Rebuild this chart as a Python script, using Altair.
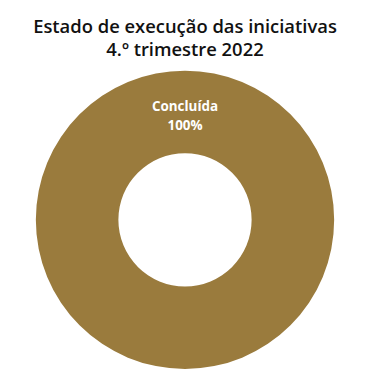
import math
import altair as alt
import pandas as pd

categories = ["Concluída"]
values = [100]
colors = ["#9A7B3D"]

df = pd.DataFrame({"estado": categories, "valor": values})
df["rotulo"] = df["estado"] + "\n" + df["valor"].astype(str) + "%"

base = alt.Chart(df).encode(
    theta=alt.Theta("valor:Q", stack=True,
                    scale=alt.Scale(range=[math.pi, 3 * math.pi])),
)

arc = base.mark_arc(innerRadius=67, outerRadius=150, stroke=None).encode(
    color=alt.Color("estado:N", scale=alt.Scale(domain=categories, range=colors), legend=None)
)

text = base.mark_text(
    radius=113, color="white", font="Open Sans", fontWeight="bold",
    fontSize=13.5, lineBreak="\n", lineHeight=19, baseline="middle", align="center"
).encode(text="rotulo:N")

chart = alt.layer(arc, text).properties(
    width=356, height=300,
    padding={"top": 62, "left": 0, "right": 0, "bottom": 0},
    autosize=alt.AutoSizeParams(type="none"),
    title=alt.TitleParams(
        ["Estado de execução das iniciativas", "4.º trimestre 2022"],
        font="Open Sans", fontSize=18.5, fontWeight=600, color="#111111",
        anchor="middle", lineHeight=23, offset=11,
    ),
).configure_view(stroke=None)

chart.save("out.html", embed_options={"renderer": "svg", "actions": False})
